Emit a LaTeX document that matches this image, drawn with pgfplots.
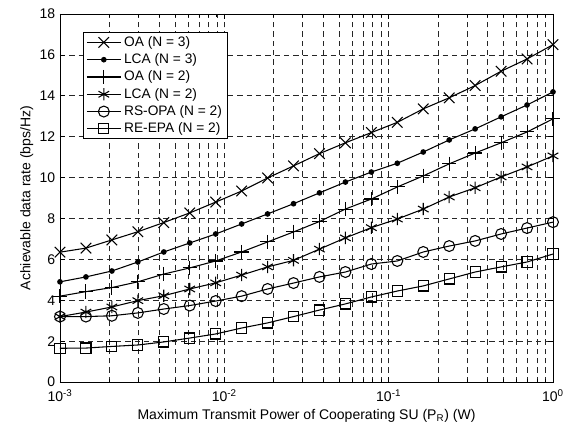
\documentclass[border=0pt]{standalone}
\usepackage{pgfplots}
\pgfplotsset{compat=1.18}
\usepackage{pgfplotstable}
\usepackage{fontspec}
\setmainfont{Liberation Sans}

% x: 20 log-spaced powers, columns
\pgfplotstableread{
x         oa3    lca3   oa2    lca2   rsopa  reepa
0.001     6.35   4.90   4.20   3.20   3.20   1.65
0.0014384 6.55   5.14   4.42   3.42   3.20   1.66
0.0020691 6.95   5.43   4.62   3.67   3.24   1.74
0.0029764 7.35   5.87   4.90   3.98   3.38   1.81
0.0042813 7.80   6.36   5.28   4.22   3.57   1.96
0.0061585 8.27   6.80   5.58   4.55   3.74   2.15
0.0088587 8.80   7.24   5.92   4.85   3.96   2.35
0.012743  9.34   7.73   6.36   5.23   4.20   2.64
0.018330  9.98   8.22   6.85   5.63   4.55   2.89
0.026367  10.57  8.72   7.34   5.95   4.84   3.20
0.037927  11.17  9.25   7.85   6.50   5.14   3.52
0.054556  11.70  9.78   8.46   7.05   5.38   3.82
0.078476  12.20  10.27  8.95   7.55   5.77   4.16
0.11288   12.70  10.70  9.54   7.97   5.92   4.45
0.16238   13.36  11.25  10.08  8.46   6.36   4.70
0.23357   13.90  11.84  10.67  9.05   6.65   5.04
0.33598   14.50  12.38  11.20  9.50   6.90   5.38
0.48329   15.20  12.97  11.70  10.03  7.24   5.63
0.69519   15.80  13.55  12.23  10.52  7.53   5.87
1         16.50  14.19  12.87  11.06  7.82   6.26
}\rates

\begin{document}
\begin{tikzpicture}
\begin{axis}[
    xmode=log,
    scale only axis,
    width=369.75pt,
    height=276pt,
    xmin=0.001, xmax=1,
    ymin=0, ymax=18,
    ytick={0,2,...,18},
    xtick={0.001,0.01,0.1,1},
    xticklabels={10\textsuperscript{-3},10\textsuperscript{-2},10\textsuperscript{-1},10\textsuperscript{0}},
    /pgf/number format/assume math mode=true,
    tick label style={font=\fontsize{10.5pt}{12pt}\selectfont},
    xticklabel style={yshift=-2pt},
    label style={font=\fontsize{10.5pt}{12pt}\selectfont},
    xlabel={Maximum Transmit Power of Cooperating SU (P\textsubscript{R}) (W)},
    ylabel={Achievable data rate (bps/Hz)},
    xlabel style={yshift=1pt},
    ylabel style={yshift=-2pt},
    grid=both,
    major grid style={black!85, dash pattern=on 4pt off 3pt, line width=0.45pt},
    minor grid style={black!85, dash pattern=on 4pt off 3pt, line width=0.45pt},
    ymajorgrids=true,
    yminorgrids=false,
    tick align=inside,
    major tick length=4pt,
    minor tick length=2.5pt,
    axis line style={line width=0.6pt},
    every tick/.style={black, line width=0.5pt},
    legend style={at={(0.047,0.951)}, anchor=north west, draw=black, line width=0.6pt,
        font=\fontsize{10.3pt}{12.5pt}\selectfont, row sep=0pt,
        inner xsep=2pt, inner ysep=1pt},
    legend cell align=left,
    legend image code/.code={%
        \draw[mark repeat=2,mark phase=2,#1] plot coordinates {(0cm,0cm) (0.45cm,0cm) (0.9cm,0cm)};},
    every axis plot/.append style={black, line width=0.8pt},
]
\addplot[mark=x, mark size=5.6pt] table[x=x, y=oa3] {\rates};
\addlegendentry{OA (N = 3)}
\addplot[mark=*, mark size=1.7pt] table[x=x, y=lca3] {\rates};
\addlegendentry{LCA (N = 3)}
\addplot[mark=+, mark size=5.4pt] table[x=x, y=oa2] {\rates};
\addlegendentry{OA (N = 2)}
\addplot[mark=asterisk, mark size=4.6pt] table[x=x, y=lca2] {\rates};
\addlegendentry{LCA (N = 2)}
\addplot[mark=o, mark size=4.1pt] table[x=x, y=rsopa] {\rates};
\addlegendentry{RS-OPA (N = 2)}
\addplot[mark=square, mark size=3.8pt] table[x=x, y=reepa] {\rates};
\addlegendentry{RE-EPA (N = 2)}
\end{axis}
\pgfresetboundingbox
\path ([xshift=-45pt,yshift=-37.5pt]current axis.south west) rectangle ([xshift=17.25pt,yshift=10.5pt]current axis.north east);
\end{tikzpicture}
\end{document}
